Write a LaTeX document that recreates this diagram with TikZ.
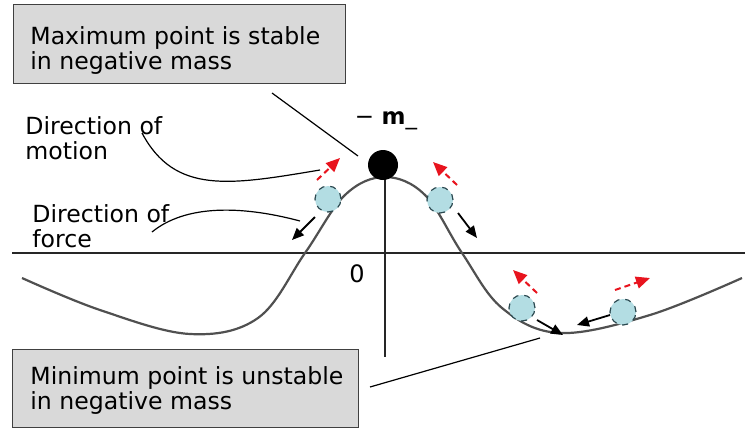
\documentclass[tikz,border=0pt]{standalone}
\usepackage{fontspec}
\setmainfont{DejaVu Sans}
\usetikzlibrary{arrows.meta}
\definecolor{ballblue}{HTML}{B3DDE3}
\definecolor{balledge}{HTML}{2B4950}
\definecolor{motred}{HTML}{E8141E}
\definecolor{notegray}{HTML}{D9D9D9}
\definecolor{curvegray}{HTML}{505050}

\begin{document}
\begin{tikzpicture}[x=0.5pt, y=-0.5pt,
            notebox/.style={draw=black!75, fill=notegray, anchor=north west, inner sep=0pt},
            lbl/.style={anchor=north west, align=left, inner sep=0pt,
                        font=\fontsize{11.8}{12.5}\selectfont},
            dot/.style={circle, draw=balledge, dashed, fill=ballblue, line width=0.6pt,
                        minimum size=13pt, inner sep=0pt},
            motion/.style={motred, dash pattern=on 3pt off 2pt, line width=1pt,
                           -{Triangle[length=7pt,width=6pt]}},
            force/.style={black, line width=0.9pt, -{Triangle[length=6pt,width=5pt]}},
            leader/.style={black, line width=0.6pt}]
        \useasboundingbox (0,0) rectangle (745,430);
        % axes and potential curve
        \coordinate (xl) at (12,253);
        \coordinate (xr) at (745,253);
        \coordinate (yt) at (385,175);
        \coordinate (yb) at (385,357);
        \draw[line width=1pt, black!85] (xl)--(xr) (yt)--(yb);
        \draw[curvegray, line width=1.1pt] plot[smooth, tension=0.6] coordinates {
            (22,278) (100,310) (190,334) (258,318) (305,253) (345,195) (385,177)
            (425,195) (462,253) (502,308) (560,333) (650,315) (742,278)};
        \node[font=\fontsize{12}{12}\selectfont] (origin) at (357,274) {0};
        \node[circle, fill=black, minimum size=15pt, inner sep=0pt] (ball) at (383,165) {};
        \node[font=\fontsize{11.5}{12}\selectfont] (mlabel) at (386,121) {− \textbf{m}\_};
        % test masses
        \node[dot] (d1) at (328,199) {};
        \node[dot] (d2) at (440,200) {};
        \node[dot] (d3) at (522,308) {};
        \node[dot] (d4) at (623,312) {};
        \coordinate (m1s) at (317,180); \coordinate (m1e) at (340,158);
        \coordinate (m2s) at (457,185); \coordinate (m2e) at (433,162);
        \coordinate (m3s) at (537,293); \coordinate (m3e) at (513,270);
        \coordinate (m4s) at (615,290); \coordinate (m4e) at (650,278);
        \draw[motion] (m1s)--(m1e);
        \draw[motion] (m2s)--(m2e);
        \draw[motion] (m3s)--(m3e);
        \draw[motion] (m4s)--(m4e);
        \coordinate (f1s) at (315,217); \coordinate (f1e) at (292,240);
        \coordinate (f2s) at (458,213); \coordinate (f2e) at (477,238);
        \coordinate (f3s) at (537,320); \coordinate (f3e) at (563,335);
        \coordinate (f4s) at (610,315); \coordinate (f4e) at (577,325);
        \draw[force] (f1s)--(f1e);
        \draw[force] (f2s)--(f2e);
        \draw[force] (f3s)--(f3e);
        \draw[force] (f4s)--(f4e);
        % labels and leaders
        \node[lbl] (motlbl) at (25,116) {Direction of\\motion};
        \node[lbl] (forlbl) at (32,204) {Direction of\\force};
        \coordinate (motend) at (320,170);
        \coordinate (forend) at (300,221);
        \draw[leader] (142,133) .. controls (175,195) and (230,185) .. (motend);
        \draw[leader] (152,232) .. controls (185,205) and (240,205) .. (forend);
        \node[notebox, minimum width=166pt, minimum height=39.5pt] (maxbox) at (13,4) {};
        \node[lbl] (maxnote) at (30,26) {Maximum point is stable\\in negative mass};
        \node[notebox, minimum width=173pt, minimum height=39pt] (minbox) at (12,349) {};
        \node[lbl] (minnote) at (30,366) {Minimum point is unstable\\in negative mass};
        \coordinate (maxtip) at (358,156);
        \coordinate (mintip) at (540,338);
        \draw[leader] (272,93)--(maxtip);
        \draw[leader] (370,387)--(mintip);
\end{tikzpicture}
\end{document}
